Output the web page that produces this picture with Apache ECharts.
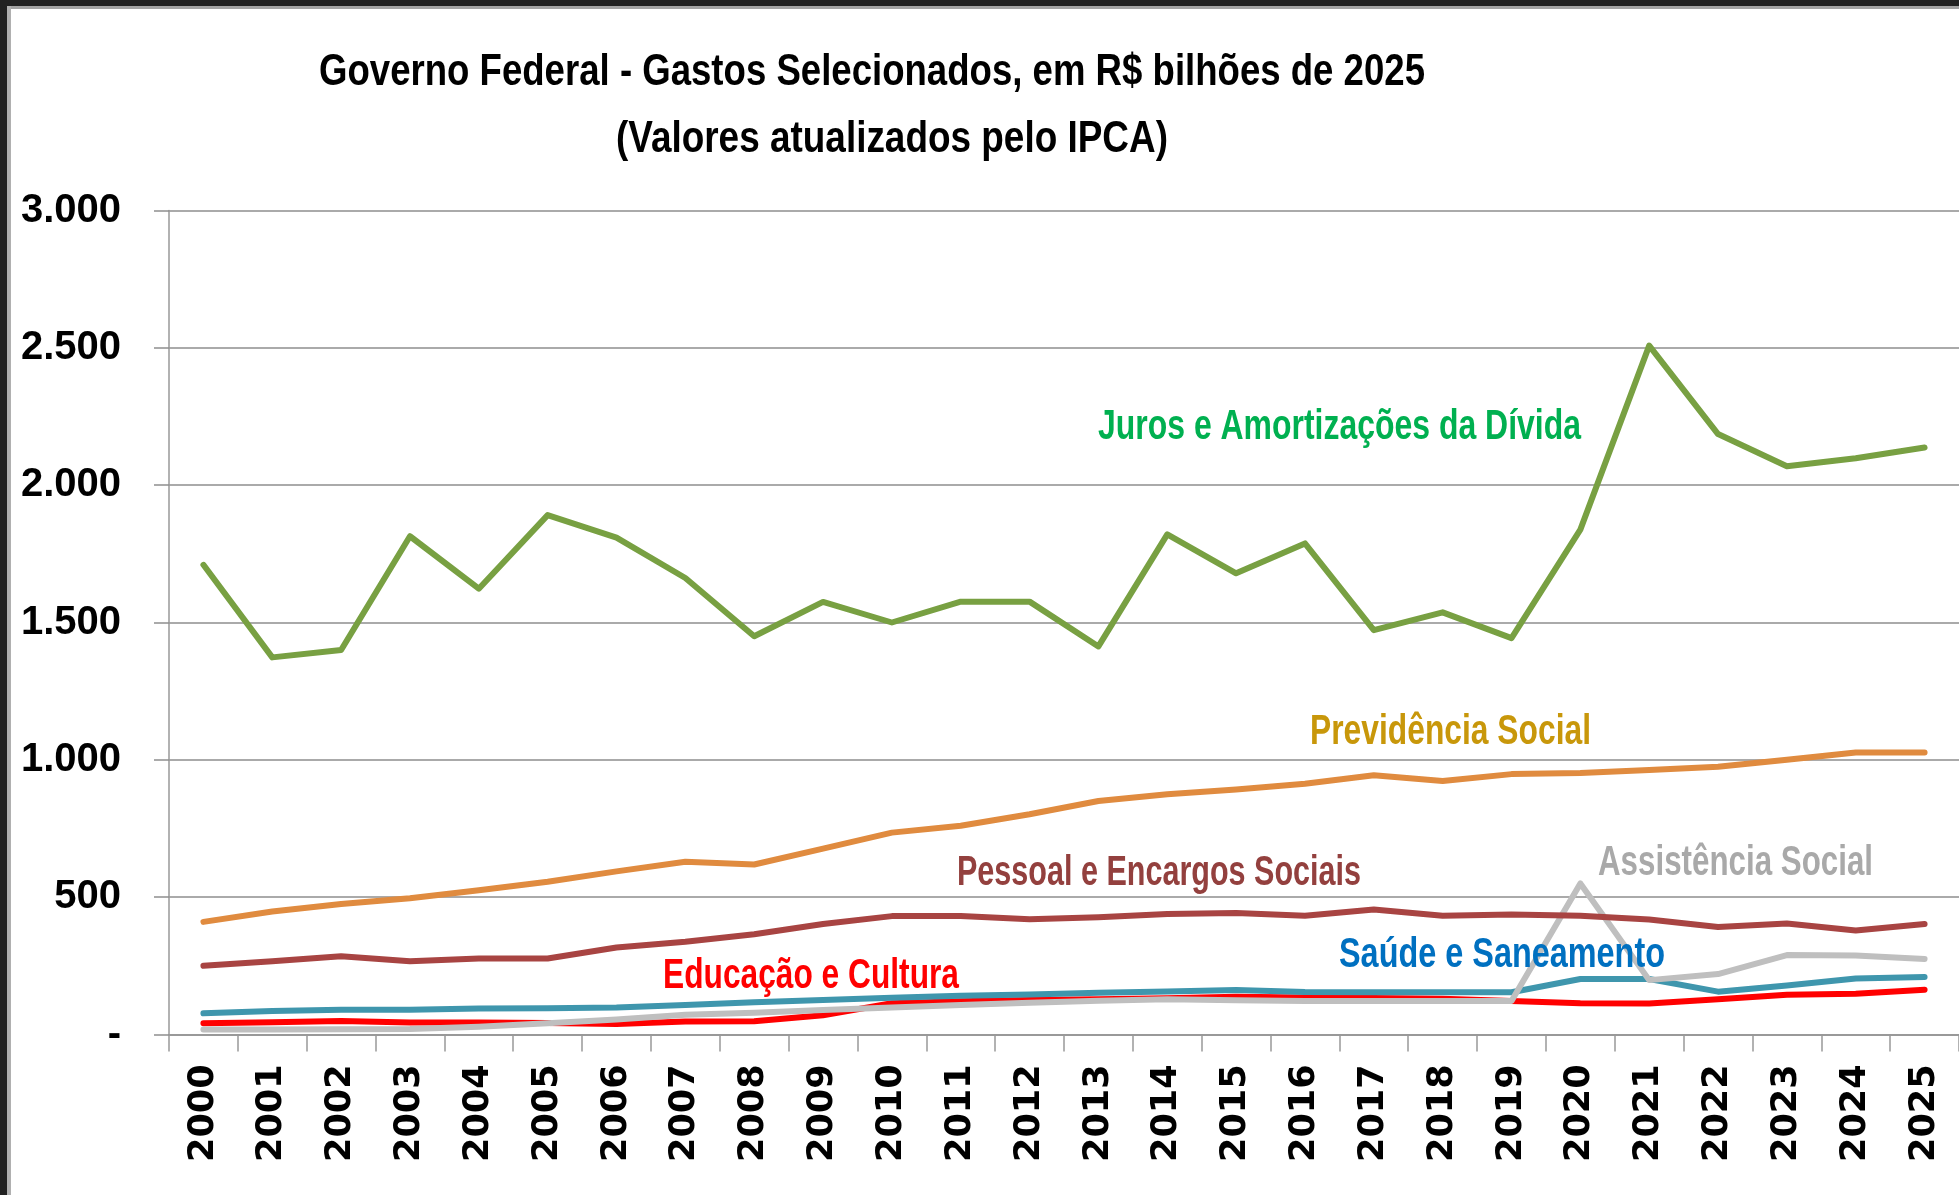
<!DOCTYPE html>
<html>
<head>
<meta charset="utf-8">
<script src="https://cdn.jsdelivr.net/npm/echarts@6/dist/echarts.min.js"></script>
<style>
html,body{margin:0;padding:0;background:#fff;overflow:hidden;}
#chart{width:1959px;height:1195px;}
</style>
</head>
<body>
<div id="chart"></div>
<script>
var years = ['2000','2001','2002','2003','2004','2005','2006','2007','2008','2009','2010','2011','2012','2013','2014','2015','2016','2017','2018','2019','2020','2021','2022','2023','2024','2025'];
var juros = [1710,1373,1400,1814,1623,1891,1809,1662,1450,1575,1500,1576,1576,1413,1821,1679,1788,1472,1537,1443,1838,2508,2186,2069,2098,2137];
var previdencia = [410,448,475,496,525,556,594,629,619,677,735,760,802,850,875,892,913,944,923,948,952,963,975,1000,1027,1027];
var pessoal = [250,267,285,267,277,277,317,338,365,402,431,431,420,427,439,442,432,455,432,437,432,419,391,404,379,402];
var saude = [77,86,90,90,95,96,98,107,117,126,134,141,146,152,157,162,155,154,154,154,202,202,156,178,204,209];
var educacao = [41,45,49,44,44,42,38,47,48,70,114,121,126,128,132,137,135,133,130,122,114,113,128,145,148,163];
var assistencia = [18,18,19,20,28,41,55,72,79,89,98,107,116,123,128,125,122,122,122,122,550,198,220,289,288,275];
var yTickLabels = ['-','500','1.000','1.500','2.000','2.500','3.000'];
var titleLines = ['Governo Federal - Gastos Selecionados, em R$ bilhões de 2025', '(Valores atualizados pelo IPCA)'];
var seriesNames = ['Educação e Cultura','Saúde e Saneamento','Assistência Social','Pessoal e Encargos Sociais','Previdência Social','Juros e Amortizações da Dívida'];

var chart = echarts.init(document.getElementById('chart'), null, {renderer:'canvas'});

var ctx = document.createElement('canvas').getContext('2d');
function scaledText(text, left, width, capMid, size, color) {
  var font = 'bold ' + size + 'px "Liberation Sans", Arial, sans-serif';
  ctx.font = font;
  var w = ctx.measureText(text).width;
  return {
    type: 'text', x: left, y: capMid + size * 0.05, scaleX: width / w, z: 100,
    style: { text: text, font: font, fill: color, textAlign: 'left', textVerticalAlign: 'middle' }
  };
}

var graphics = [
  {type:'rect', shape:{x:0,y:0,width:1959,height:6}, style:{fill:'#222'}, z:200},
  {type:'rect', shape:{x:0,y:0,width:7,height:1195}, style:{fill:'#222'}, z:200},
  {type:'rect', shape:{x:7,y:6,width:1952,height:3}, style:{fill:'#a4a4a4'}, z:200},
  {type:'rect', shape:{x:7,y:6,width:4,height:1189}, style:{fill:'#b0b0b0'}, z:200},
  scaledText(titleLines[0], 319, 1106, 70, 45, '#000'),
  scaledText(titleLines[1], 616, 552, 137, 45, '#000'),
  scaledText(seriesNames[5], 1098, 483, 425, 42, '#00b050'),
  scaledText(seriesNames[4], 1310, 281, 730, 42, '#c8970a'),
  scaledText(seriesNames[3], 957, 404, 871, 42, '#93403e'),
  scaledText(seriesNames[0], 663, 296, 974, 42, '#ff0000'),
  scaledText(seriesNames[1], 1339, 326, 953, 42, '#0070c0'),
  scaledText(seriesNames[2], 1598, 275, 861, 42, '#a9a9a9')
];

function line(name, data, color) {
  return {
    name: name, type: 'line', data: data, symbol: 'none', smooth: false,
    lineStyle: { color: color, width: 6, join: 'round', cap: 'round' },
    emphasis: { disabled: true }, animation: false
  };
}

var gridColor = '#8e8e8e';
chart.setOption({
  backgroundColor: '#ffffff',
  animation: false,
  grid: { left: 169, right: -8, top: 210.5, bottom: 160.5, containLabel: false },
  xAxis: {
    type: 'category', data: years, boundaryGap: true,
    axisLine: { show: true, lineStyle: { color: '#999', width: 2 } },
    axisTick: { show: true, alignWithLabel: false, length: 17, lineStyle: { color: '#999', width: 1.5 } },
    axisLabel: { rotate: 90, margin: 30, color: '#000', fontFamily: '"DejaVu Sans", Verdana, sans-serif', fontWeight: 'bold', fontSize: 35, interval: 0 },
    splitLine: { show: false }
  },
  yAxis: {
    type: 'value', min: 0, max: 3000, interval: 500,
    axisLine: { show: true, lineStyle: { color: '#999', width: 1.5 } },
    axisTick: { show: true, length: 15, lineStyle: { color: gridColor, width: 1.5 } },
    axisLabel: { margin: 48, color: '#000', fontFamily: '"Liberation Sans", Arial, sans-serif', fontWeight: 'bold', fontSize: 40,
      formatter: function (v) { return yTickLabels[Math.round(v / 500)]; } },
    splitLine: { show: true, lineStyle: { color: gridColor, width: 1.5 } }
  },
  series: [
    line(seriesNames[0], educacao, '#ff0000'),
    line(seriesNames[1], saude, '#3f96ad'),
    line(seriesNames[2], assistencia, '#bfbfbf'),
    line(seriesNames[3], pessoal, '#a84442'),
    line(seriesNames[4], previdencia, '#e08b3f'),
    line(seriesNames[5], juros, '#78a042')
  ],
  graphic: graphics
});
</script>
</body>
</html>
